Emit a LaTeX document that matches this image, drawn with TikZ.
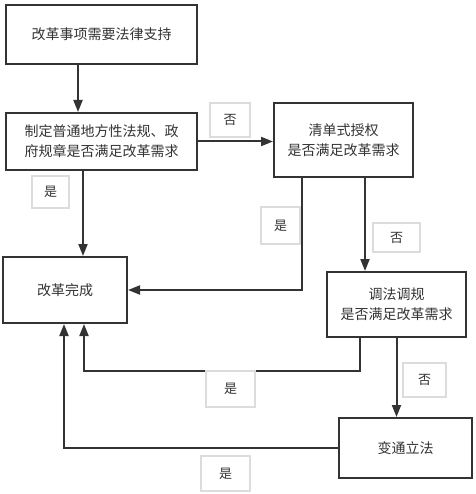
\documentclass[tikz,border=0pt]{standalone}
\usepackage{fontspec}
\setmainfont{Noto Sans CJK SC}
\usetikzlibrary{arrows.meta}
\definecolor{ink}{HTML}{333333}
\definecolor{lbl}{HTML}{DCDCDC}
\begin{document}
\begin{tikzpicture}[x=1pt,y=-1pt,
  box/.style={draw=ink,line width=2pt,rectangle,align=center,text=ink,font=\fontsize{14}{20}\selectfont,inner sep=0pt},
  lab/.style={draw=lbl,fill=white,line width=1.5pt,rectangle,text=ink,font=\fontsize{13}{16}\selectfont,inner sep=0pt},
  arr/.style={draw=ink,line width=2pt,-{Triangle[length=12pt,width=9pt]}},
  ln/.style={draw=ink,line width=2pt}]
\useasboundingbox (0,0) rectangle (475,494);
\node[box,minimum width=191pt,minimum height=59pt] (b1) at (101.5,34.5) {改革事项需要法律支持};
\node[box,minimum width=191pt,minimum height=57pt] (b2) at (101.5,141.5) {制定普通地方性法规、政\\府规章是否满足改革需求};
\node[box,minimum width=139pt,minimum height=74pt] (b3) at (343.5,140) {清单式授权\\是否满足改革需求};
\node[box,minimum width=139pt,minimum height=65pt] (b4) at (396.5,304.5) {调法调规\\是否满足改革需求};
\node[box,minimum width=133pt,minimum height=60pt] (b5) at (405.5,448) {变通立法};
\node[box,minimum width=124pt,minimum height=66pt] (b6) at (65,290) {改革完成};
% connectors
\coordinate (p1) at ([xshift=-23.5pt]b1.south);
\draw[arr] (p1) -- (p1 |- b2.north);
\coordinate (p2) at ([xshift=-18.5pt]b2.south);
\draw[arr] (p2) -- (p2 |- b6.north);
\draw[arr] (b2.east) -- (b2.east -| b3.west);
\coordinate (p3) at ([xshift=-41.5pt]b3.south);
\draw[arr] (p3) |- (b6.east);
\coordinate (p4) at ([xshift=21.5pt]b3.south);
\draw[arr] (p4) -- (p4 |- b4.north);
\coordinate (p5) at ([xshift=-36.5pt]b4.south);
\coordinate (q5) at ([xshift=19pt]b6.south);
\draw[arr] (p5) -- ++(0,33) -| (q5);
\draw[arr] (b4.south) -- (b4.south |- b5.north);
\coordinate (q6) at ([xshift=-1pt]b6.south);
\draw[arr] (b5.west) -| (q6);
% labels
\node[lab,minimum width=40pt,minimum height=34pt] (l1) at (230,120) {否};
\node[lab,minimum width=37pt,minimum height=32pt] (l2) at (50.5,192) {是};
\node[lab,minimum width=39pt,minimum height=37pt] (l3) at (280.5,225.5) {是};
\node[lab,minimum width=47pt,minimum height=29pt] (l4) at (396.5,237.5) {否};
\node[lab,minimum width=49pt,minimum height=36pt] (l5) at (230.5,389) {是};
\node[lab,minimum width=43pt,minimum height=34pt] (l6) at (424.5,380) {否};
\node[lab,minimum width=49pt,minimum height=35pt] (l7) at (225.5,473.5) {是};
\end{tikzpicture}
\end{document}
